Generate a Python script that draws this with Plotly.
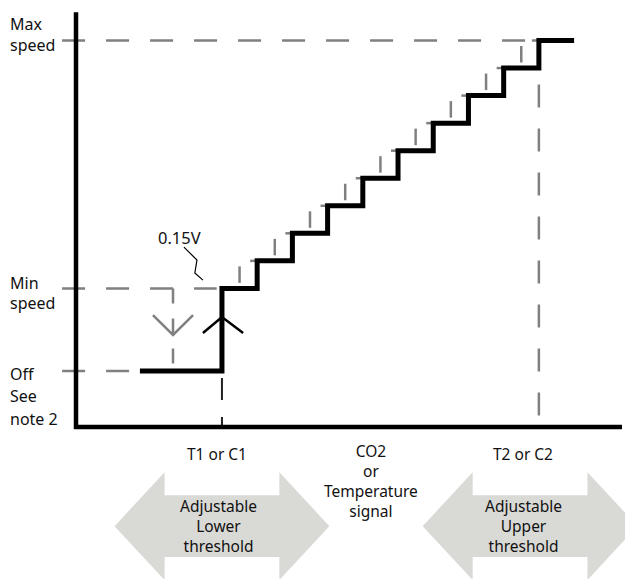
import plotly.graph_objects as go

# signal in "step" units (one step = 0.3V), speed in step levels
step_signal = [4, 5, 6, 7, 8, 9, 10, 11, 12, 13]
step_speed = [3, 4, 5, 6, 7, 8, 9, 10, 11, 12]
off_speed = 0
min_speed = 3
max_speed = 12
off_start = 1.67
run_end = 14
hyst = 0.5           # the 0.15V drop back
off_return = 2.61    # falls back to Off here

left_labels = [(["Max", "speed"], [12.6, 11.83]),
               (["Min", "speed"], [3.19, 2.47]),
               (["Off", "See", "note 2"], [-0.11, -0.91, -1.74])]
t1_label = "T1 or C1"
t2_label = "T2 or C2"
signal_label = "CO2<br>or<br>Temperature<br>signal"
lower_label = "Adjustable<br>Lower<br>threshold"
upper_label = "Adjustable<br>Upper<br>threshold"

ax_left, ax_right = -0.145, 15.36
ax_bottom, ax_top = -2.03, 13.03
ref_start = -0.54

GREY = "#808080"
DASH = "23px,21px"

fig = go.Figure()


def line(xs, ys, color, width, dash="solid"):
    fig.add_trace(go.Scatter(x=xs, y=ys, mode="lines", hoverinfo="skip",
                             line=dict(color=color, width=width, dash=dash)))


def double_arrow(cx, cy, half_w, head, half_h, half_s):
    l, r = cx - half_w, cx + half_w
    xs = [l, l + head, l + head, r - head, r - head, r, r - head, r - head, l + head, l + head, l]
    ys = [cy, cy + half_h, cy + half_s, cy + half_s, cy + half_h, cy,
          cy - half_h, cy - half_s, cy - half_s, cy - half_h, cy]
    fig.add_trace(go.Scatter(x=xs, y=ys, mode="lines", fill="toself", fillcolor="#d9d9d6",
                             line=dict(width=0, color="#d9d9d6"), hoverinfo="skip"))


# big grey arrows under the axis
double_arrow(step_signal[0], -5.63, 3.05, 1.42, 1.96, 1.125)
double_arrow(step_signal[-1] - 0.25, -5.63, 3.05, 1.42, 1.96, 1.125)

# dashed reference lines
line([ref_start, step_signal[-1]], [max_speed, max_speed], GREY, 2.5, DASH)
line([ref_start, 3.85], [min_speed, min_speed], GREY, 2.5, DASH)
line([ref_start, off_start], [off_speed, off_speed], GREY, 2.5, DASH)
line([step_signal[-1], step_signal[-1]], [max_speed, ax_bottom], GREY, 2.5, DASH)
line([off_return, off_return], [min_speed, off_speed], GREY, 2.5, "15px,15px")
line([step_signal[0], step_signal[0]], [-0.25, ax_bottom], "#222222", 2, "22px,17px")

# hysteresis marks, drop back path
hx, hy = [], []
for i in range(1, len(step_signal)):
    u = step_signal[i]
    lo = step_speed[i - 1]
    hx += [u - hyst, u - hyst, None, u - 0.2, u + 0.2, None]
    hy += [lo + 0.2, lo + 0.8, None, step_speed[i], step_speed[i], None]
line(hx, hy, GREY, 2.5)

# grey down arrow head and black up arrow head
line([off_return - 0.57, off_return, off_return + 0.57], [2.03, 1.31, 2.03], GREY, 2.5)
line([step_signal[0] - 0.54, step_signal[0], step_signal[0] + 0.6], [1.38, 1.96, 1.38], "black", 2.5)

# 0.15V leader
line([2.92, 3.29, 3.23, 3.46], [4.5, 4.03, 3.56, 3.3], "black", 1.2)

# the fan speed staircase
sx, sy = [off_start], [off_speed]
prev = off_speed
for u, s in zip(step_signal, step_speed):
    sx += [u, u]
    sy += [prev, s]
    prev = s
sx.append(run_end)
sy.append(prev)
line(sx, sy, "black", 5)

# axes
line([ax_left, ax_left, ax_right], [ax_top, ax_bottom, ax_bottom], "black", 4.5)

ann = []
for words, ys in left_labels:
    for w, y in zip(words, ys):
        ann.append(dict(x=-2.07, y=y, text=w, xanchor="left", font_size=16))
ann.append(dict(x=step_signal[0] - 0.15, y=-3.0, text=t1_label, font_size=15.5))
ann.append(dict(x=step_signal[-1] - 0.45, y=-3.0, text=t2_label, font_size=15.5))
ann.append(dict(x=8.23, y=-3.99, text=signal_label, font_size=15.5))
ann.append(dict(x=step_signal[0] - 0.1, y=-5.63, text=lower_label, font_size=15.5))
ann.append(dict(x=step_signal[-1] - 0.45, y=-5.63, text=upper_label, font_size=15.5))
ann.append(dict(x=2.78, y=4.86, text="0.15V", font_size=16.5))
for a in ann:
    a.update(xref="x", yref="y", showarrow=False)

# the page sits 8px in from the window corner, ranges allow for that
fig.update_layout(
    width=633, height=579,
    margin=dict(l=0, r=0, t=0, b=0),
    paper_bgcolor="white", plot_bgcolor="white",
    showlegend=False,
    font=dict(family="Noto Sans", color="#111111"),
    xaxis=dict(range=[-2.076, 15.9], visible=False, fixedrange=True),
    yaxis=dict(range=[-7.84, 13.18], visible=False, fixedrange=True),
    annotations=ann,
)

fig.write_html("out.html")
